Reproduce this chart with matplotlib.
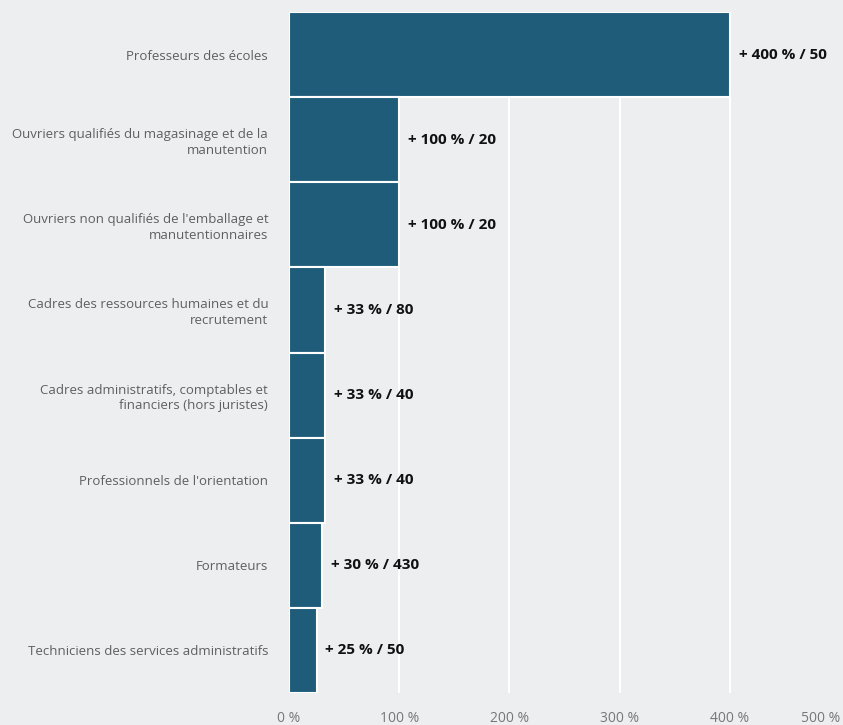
import matplotlib
matplotlib.use("Agg")
import matplotlib.pyplot as plt

# Métiers et évolution (%) / effectifs
metiers = [
    "Professeurs des écoles",
    "Ouvriers qualifiés du magasinage et de la\nmanutention",
    "Ouvriers non qualifiés de l'emballage et\nmanutentionnaires",
    "Cadres des ressources humaines et du\nrecrutement",
    "Cadres administratifs, comptables et\nfinanciers (hors juristes)",
    "Professionnels de l'orientation",
    "Formateurs",
    "Techniciens des services administratifs",
]
evolution = [400, 100, 100, 33, 33, 33, 30, 25]
effectifs = [50, 20, 20, 80, 40, 40, 430, 50]
ticks = [0, 100, 200, 300, 400, 500]

bg = "#edeef0"
bar_color = "#1f5c7a"

plt.rcParams['font.family'] = ['Open Sans', 'DejaVu Sans']

fig = plt.figure(figsize=(8.43, 7.25), dpi=100, facecolor=bg)
ax = fig.add_axes([289 / 843, 32 / 725, (840 - 289) / 843, (713 - 32) / 725])
ax.set_facecolor(bg)

y = list(range(len(metiers)))
ax.barh(y, evolution, height=1.0, color=bar_color, edgecolor="white",
        linewidth=1.5, zorder=3)

for yi, v, n in zip(y, evolution, effectifs):
    ax.text(v + 8, yi, f"+ {v} % / {n}", va="center", ha="left",
            fontsize=11, fontweight="bold", color="#111111", zorder=4)

ax.set_yticks(y)
ax.set_yticklabels(metiers, fontsize=9.5, color="#5f5f5f", linespacing=1.25)
ax.set_ylim(len(metiers) - 0.5, -0.5)

ax.set_xlim(0, 500)
ax.set_xticks(ticks)
ax.set_xticklabels([f"{t} %" for t in ticks], fontsize=10, color="#777777")
ax.get_xticklabels()[-1].set_horizontalalignment("right")

# grille blanche, sauf à 500 % (bord droit)
ax.grid(axis="x", color="white", linewidth=1.5, zorder=0)
ax.get_xgridlines()[-1].set_visible(False)
ax.tick_params(axis="both", length=0)
ax.tick_params(axis="y", pad=15)
ax.tick_params(axis="x", pad=13)
for s in ax.spines.values():
    s.set_visible(False)

fig.savefig("out.png", dpi=100, facecolor=bg)
